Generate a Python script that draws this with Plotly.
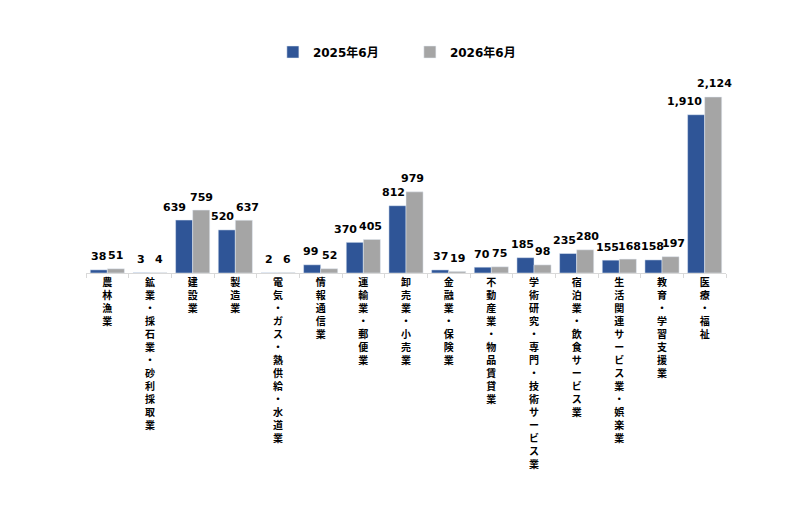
import plotly.graph_objects as go

categories = [
    "農林漁業", "鉱業・採石業・砂利採取業", "建設業", "製造業",
    "電気・ガス・熱供給・水道業", "情報通信業", "運輸業・郵便業", "卸売業・小売業",
    "金融業・保険業", "不動産業・物品賃貸業", "学術研究・専門・技術サービス業",
    "宿泊業・飲食サービス業", "生活関連サービス業・娯楽業", "教育・学習支援業", "医療・福祉",
]
jun_2025 = [38, 3, 639, 520, 2, 99, 370, 812, 37, 70, 185, 235, 155, 158, 1910]
jun_2026 = [51, 4, 759, 637, 6, 52, 405, 979, 19, 75, 98, 280, 168, 197, 2124]

BLUE = "#2F5597"
GRAY = "#A5A5A5"
FONT = "DejaVu Sans, Noto Sans CJK JP"

# small sideways nudges (px) so neighbouring value labels don't collide
nudge_2025 = [0, 0, -10, -4, 0, -2, -9, -4, 0, -1, -3, -4, -3, -1, -12]
nudge_2026 = [0, 0, 0, 4, 0, 0, -1, -2, 0, 0, 0, 2, 2, 3, 1]

# stack characters to imitate vertical writing
tick_text = ["<br>".join(list(c)) for c in categories]

fig = go.Figure()
series = [("2025年6月", jun_2025, BLUE, -0.2, nudge_2025),
          ("2026年6月", jun_2026, GRAY, 0.2, nudge_2026)]
for name, vals, color, off, nudge in series:
    fig.add_trace(go.Bar(x=categories, y=vals, name=name, marker_color=color))
    for i, v in enumerate(vals):
        fig.add_annotation(
            x=i + off, y=v, xref="x", yref="y", text=f"{v:,}", showarrow=False,
            xanchor="center", yanchor="middle", xshift=nudge[i], yshift=13,
            font=dict(family=FONT, size=11, color="#000000", weight="bold"),
        )

fig.update_layout(
    width=800, height=511,
    barmode="group", bargap=0.2, bargroupgap=0,
    plot_bgcolor="white", paper_bgcolor="white",
    margin=dict(l=77.6, r=82, t=72, b=246),
    font=dict(family=FONT, color="#000000"),
    legend=dict(
        orientation="h", x=0.292, y=1.145, xanchor="left", yanchor="middle",
        font=dict(size=12, weight="bold"), entrywidth=92,
    ),
)
fig.update_xaxes(
    range=[-0.5, len(categories) - 0.5],
    tickmode="array", tickvals=categories, ticktext=tick_text,
    tickfont=dict(family="Noto Sans CJK JP", size=10, weight="bold"),
    showline=True, linecolor="#D9D9D9", linewidth=1,
    ticks="outside", tickson="boundaries", ticklen=4, tickcolor="#D9D9D9",
    showgrid=False, automargin=False, tickangle=0,
)
fig.update_yaxes(range=[0, 2329], visible=False, showgrid=False)

fig.write_html("out.html")
